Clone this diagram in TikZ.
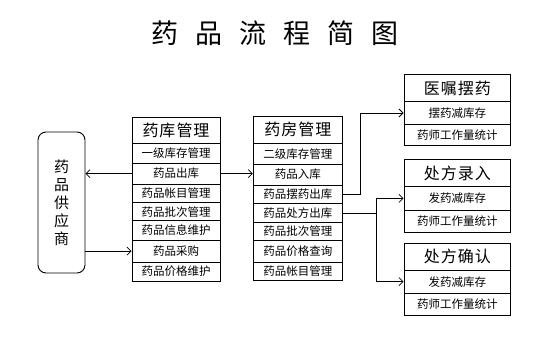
\documentclass[tikz,border=0pt]{standalone}
\usepackage{fontspec}
\newfontfamily\cjk{Noto Sans CJK SC}
\usetikzlibrary{arrows.meta}
\newcommand\rowbox[7]{%
  \node[#7, minimum width={(#3-#2)*1pt}, minimum height={(#5-#4)*1pt}]
    (#1) at ({(#2+#3)/2},{(#4+#5)/2}) {#6};}
\begin{document}
\begin{tikzpicture}[x=1pt,y=-1pt,
  cell/.style={draw, line width=0.9pt, inner sep=0pt, font=\cjk\fontsize{11.5}{12}\selectfont},
  head/.style={draw, line width=0.9pt, inner sep=0pt, font=\cjk\fontsize{16}{18}\selectfont},
  conn/.style={line width=0.9pt, -{Straight Barb[length=4pt,width=8pt,line width=0.8pt]}},
  plain/.style={line width=0.9pt}]
\useasboundingbox (0,0) rectangle (552,347);
% title
\node[font=\cjk\fontsize{27}{30}\selectfont, inner sep=0pt] (title) at (275,33)
  {药\hspace{17pt}品\hspace{17pt}流\hspace{17pt}程\hspace{17pt}简\hspace{17pt}图};
% supplier
\node[draw, line width=0.9pt, rounded corners=8pt, minimum width=47pt, minimum height=141pt,
  inner sep=0pt, align=center, font=\cjk\fontsize{15}{18}\selectfont] (sup) at (61.5,202.5)
  {药\\品\\供\\应\\商};
% left box
\rowbox{l1}{132}{220}{117}{143.3}{药\hspace{1pt}库\hspace{1pt}管\hspace{1pt}理}{head}
\rowbox{l2}{132}{220}{143.3}{163.3}{一级库存管理}{cell}
\rowbox{l3}{132}{220}{163.3}{184}{药品出库}{cell}
\rowbox{l4}{132}{220}{184}{202.7}{药品帐目管理}{cell}
\rowbox{l5}{132}{220}{202.7}{220.7}{药品批次管理}{cell}
\rowbox{l6}{132}{220}{220.7}{240}{药品信息维护}{cell}
\rowbox{l7}{132}{220}{240}{262.3}{药品采购}{cell}
\rowbox{l8}{132}{220}{262.3}{281}{药品价格维护}{cell}
% middle box
\rowbox{m1}{253.3}{342.3}{116}{143.3}{药\hspace{1pt}房\hspace{1pt}管\hspace{1pt}理}{head}
\rowbox{m2}{253.3}{342.3}{143.3}{164}{二级库存管理}{cell}
\rowbox{m3}{253.3}{342.3}{164}{185}{药品入库}{cell}
\rowbox{m4}{253.3}{342.3}{185}{203.3}{药品摆药出库}{cell}
\rowbox{m5}{253.3}{342.3}{203.3}{222.7}{药品处方出库}{cell}
\rowbox{m6}{253.3}{342.3}{222.7}{240}{药品批次管理}{cell}
\rowbox{m7}{253.3}{342.3}{240}{262.3}{药品价格查询}{cell}
\rowbox{m8}{253.3}{342.3}{262.3}{280}{药品帐目管理}{cell}
% right boxes
\rowbox{a1}{404}{510.7}{74.3}{101.7}{医\hspace{1pt}嘱\hspace{1pt}摆\hspace{1pt}药}{head}
\rowbox{a2}{404}{510.7}{101.7}{124.3}{摆药减库存}{cell}
\rowbox{a3}{404}{510.7}{124.3}{145}{药师工作量统计}{cell}
\rowbox{b1}{404}{510.7}{159.3}{186.7}{处\hspace{1pt}方\hspace{1pt}录\hspace{1pt}入}{head}
\rowbox{b2}{404}{510.7}{186.7}{210}{发药减库存}{cell}
\rowbox{b3}{404}{510.7}{210}{232.3}{药师工作量统计}{cell}
\rowbox{c1}{404}{510.7}{243.3}{270}{处\hspace{1pt}方\hspace{1pt}确\hspace{1pt}认}{head}
\rowbox{c2}{404}{510.7}{270}{293.3}{发药减库存}{cell}
\rowbox{c3}{404}{510.7}{293.3}{315}{药师工作量统计}{cell}
% connectors
\draw[conn] (l3.west) -- (l3.west -| sup.east);
\draw[conn] (sup.east |- l7.west) -- (l7.west);
\draw[conn] (l3.east) -- (l3.east -| m3.west);
\draw[conn] (m4.east) -- ++(18,0) |- (a2.west);
\draw[plain] (m5.east) -- ++(34,0) coordinate (j);
\draw[conn] (j) |- (b2.west);
\draw[conn] (j) |- (c2.west);
\end{tikzpicture}
\end{document}
